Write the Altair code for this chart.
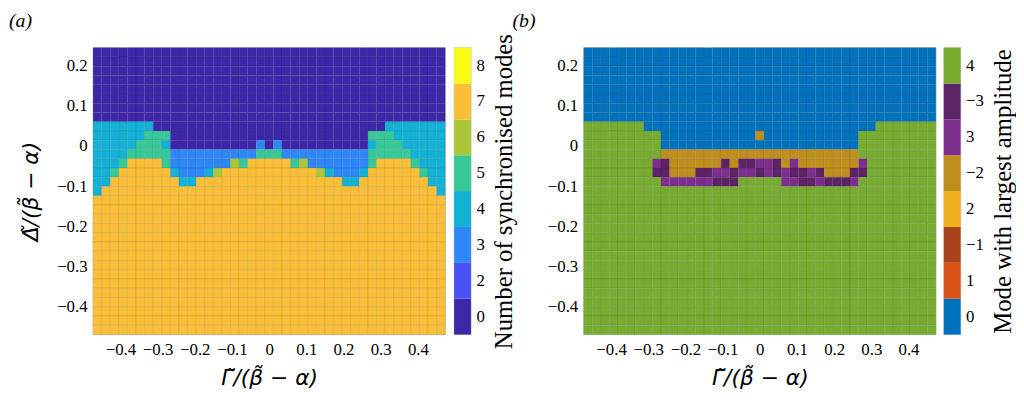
import altair as alt
import pandas as pd

SERIF = "Liberation Serif"
TITLE_FONT = "DejaVu Sans"   # renders the combining tildes correctly

# ---------------- grid (same for both panels) ----------------
STEP = 0.0231                 # cell size in both directions
N_COLS, N_ROWS = 41, 31
X_FIRST = -0.462              # centre of left-most column
Y_FIRST = 0.234               # centre of top row
X_TICKS = [-0.4, -0.3, -0.2, -0.1, 0, 0.1, 0.2, 0.3, 0.4]
Y_TICKS = [0.2, 0.1, 0, -0.1, -0.2, -0.3, -0.4]

# ---------------- (a) number of synchronised modes ----------------
A_LEVELS = [0, 2, 3, 4, 5, 6, 7, 8]
A_COLORS = ["#3e26a8", "#4852f4", "#2d87f7", "#12b1d6",
            "#37c897", "#abc739", "#fbbf37", "#f9fb14"]
A_ABOVE, A_BELOW = "0", "7"   # rows above / below the listed rows
A_FIRST_ROW = 8
A_ROWS = [
    "4444444" "0000000000" "0000000000" "0000000" "4444444",
    "444444" "555" "0000000000" "0000000000" "000" "555" "444444",
    "44444" "555" "4" "0000000000" "3" "0" "3" "0000000000" "4" "555" "44444",
    "4444" "55555" "3333333333" "555" "3333333333" "55555" "4444",
    "444" "5" "7777" "5" "3333333" "6" "5" "77777" "5" "6" "3333333" "5" "7777" "5" "444",
    "44" "5" "777777" "4" "333" "4" "6" "7777777777" "7" "6" "4" "333" "4" "777777" "5" "44",
    "44" "77777777" "44" "7777777777" "7777777" "44" "77777777" "44",
    "4" "7777777777" "7777777777" "7777777777" "777777777" "4",
]

# ---------------- (b) mode with largest amplitude ----------------
B_LEVELS = [0, 1, -1, 2, -2, 3, -3, 4]
B_COLORS = ["#0072bd", "#d95319", "#a8431b", "#edb120",
            "#c08e1c", "#7e2f8e", "#5c2467", "#77ac30"]
B_CODES = {"B": 0, "o": 1, "r": -1, "Y": 2, "y": -2, "P": 3, "p": -3, "G": 4}
B_ABOVE, B_BELOW = "B", "G"
B_FIRST_ROW = 8
B_ROWS = [
    "GGGGGGG" "BBBBBBBBBB" "BBBBBBBBBB" "BBBBBBB" "GGGGGGG",
    "GGGGGGGGG" "BBBBBBBBBBB" "y" "BBBBBBBBBBB" "GGGGGGGGG",
    "GGGGGGGGG" "BBBBBBBBBB" "BBBBBBBBBB" "BBB" "GGGGGGGGG",
    "GGGGGGGGG" "yyyyyyyyyy" "yyyyyyyyyy" "yyy" "GGGGGGGGG",
    "GGGGGGGG" "Pp" "yyyyyy" "p" "y" "pp" "PP" "p" "y" "P" "yyyyyyy" "P" "GGGGGGGG",
    "GGGGGGGG" "pp" "yyy" "ppPPpPPpPpPppPp" "yyy" "pp" "GGGGGGGG",
    "GGGGGGGGG" "PPPPPP" "ppp" "GGGGG" "PPppPpppP" "GGGGGGGGG",
]

PANEL_LABELS = ["(a)", "(b)"]
X_TITLE = "Γ̃/(β̃ − α)"
Y_TITLE = "Δ̃/(β̃ − α)"


def build_grid(rows, first_row, above, below, decode):
    recs = []
    for r in range(N_ROWS):
        if r < first_row:
            line = above * N_COLS
        elif r - first_row < len(rows):
            line = rows[r - first_row]
        else:
            line = below * N_COLS
        yc = Y_FIRST - STEP * r
        for c, ch in enumerate(line[:N_COLS]):
            xc = X_FIRST + STEP * c
            recs.append({"x0": xc - STEP / 2, "x1": xc + STEP / 2,
                         "y0": yc - STEP / 2, "y1": yc + STEP / 2,
                         "v": decode(ch)})
    return pd.DataFrame(recs)


df_a = build_grid(A_ROWS, A_FIRST_ROW, A_ABOVE, A_BELOW, int)
df_b = build_grid(B_ROWS, B_FIRST_ROW, B_ABOVE, B_BELOW, lambda ch: B_CODES[ch])

X_DOM = [X_FIRST - STEP / 2, X_FIRST + STEP * (N_COLS - 1) + STEP / 2]
Y_DOM = [Y_FIRST - STEP * (N_ROWS - 1) - STEP / 2, Y_FIRST + STEP / 2]

W, H = 356, 290
CB_W = 17


def heat(df, levels, colors, ytitle):
    return alt.Chart(df).mark_rect(stroke="#000000", strokeWidth=0.5, strokeOpacity=0.16).encode(
        x=alt.X("x0:Q", scale=alt.Scale(domain=X_DOM, nice=False, zero=False),
                axis=alt.Axis(values=X_TICKS, format=".1~f", titlePadding=11, labelPadding=7,
                              labelOverlap=False, labelFlush=False),
                title=X_TITLE),
        x2="x1:Q",
        y=alt.Y("y0:Q", scale=alt.Scale(domain=Y_DOM, nice=False, zero=False),
                axis=alt.Axis(values=Y_TICKS, format=".1~f", titlePadding=14, labelPadding=6),
                title=ytitle),
        y2="y1:Q",
        color=alt.Color("v:O", scale=alt.Scale(domain=levels, range=colors), legend=None),
    ).properties(width=W, height=H)


def colorbar(levels, colors, title, tpad):
    df = pd.DataFrame({"level": levels})
    axis = alt.Axis(orient="right", title=title, titleAngle=270, titleBaseline="top",
                    titleFont=SERIF, titleFontStyle="normal", titleFontSize=25,
                    titlePadding=tpad, labelPadding=5, labelFontSize=17,
                    labelExpr="replace(datum.label, '-', '\u2212')")
    return alt.Chart(df).mark_rect().encode(
        y=alt.Y("level:O", sort=levels[::-1],
                scale=alt.Scale(paddingInner=0, paddingOuter=0), axis=axis),
        color=alt.Color("level:O", scale=alt.Scale(domain=levels, range=colors), legend=None),
    ).properties(width=CB_W, height=H)


def panel_label(text, dx):
    return alt.Chart(pd.DataFrame({"t": [text]})).mark_text(
        align="left", baseline="top", font=SERIF, fontSize=20, fontStyle="italic", color="#000000"
    ).encode(text="t:N", x=alt.value(dx), y=alt.value(-37))


heat_a = alt.layer(heat(df_a, A_LEVELS, A_COLORS, Y_TITLE),
                   panel_label(PANEL_LABELS[0], -85))
cb_a = alt.layer(colorbar(A_LEVELS, A_COLORS, "Number of synchronised modes", 7),
                 panel_label(PANEL_LABELS[1], 59))
heat_b = heat(df_b, B_LEVELS, B_COLORS, None)
cb_b = colorbar(B_LEVELS, B_COLORS, "Mode with largest amplitude", 7)

group_a = alt.hconcat(heat_a, cb_a, spacing=7)
group_b = alt.hconcat(heat_b, cb_b, spacing=6)

chart = alt.hconcat(group_a, group_b, spacing=10).resolve_scale(
    color="independent"
).properties(
    padding={"left": 0, "top": 0, "right": 0, "bottom": 0}
).configure_view(
    stroke="#9a9a9a", strokeWidth=0.6
).configure_axis(
    labelFont=SERIF, labelFontSize=17, labelColor="#000000",
    titleFont=TITLE_FONT, titleFontSize=22, titleFontStyle="italic", titleFontWeight="normal",
    titleColor="#000000", grid=False, ticks=False, tickSize=0, domain=False,
)

chart.save("out.html", embed_options={"renderer": "svg", "actions": False})
